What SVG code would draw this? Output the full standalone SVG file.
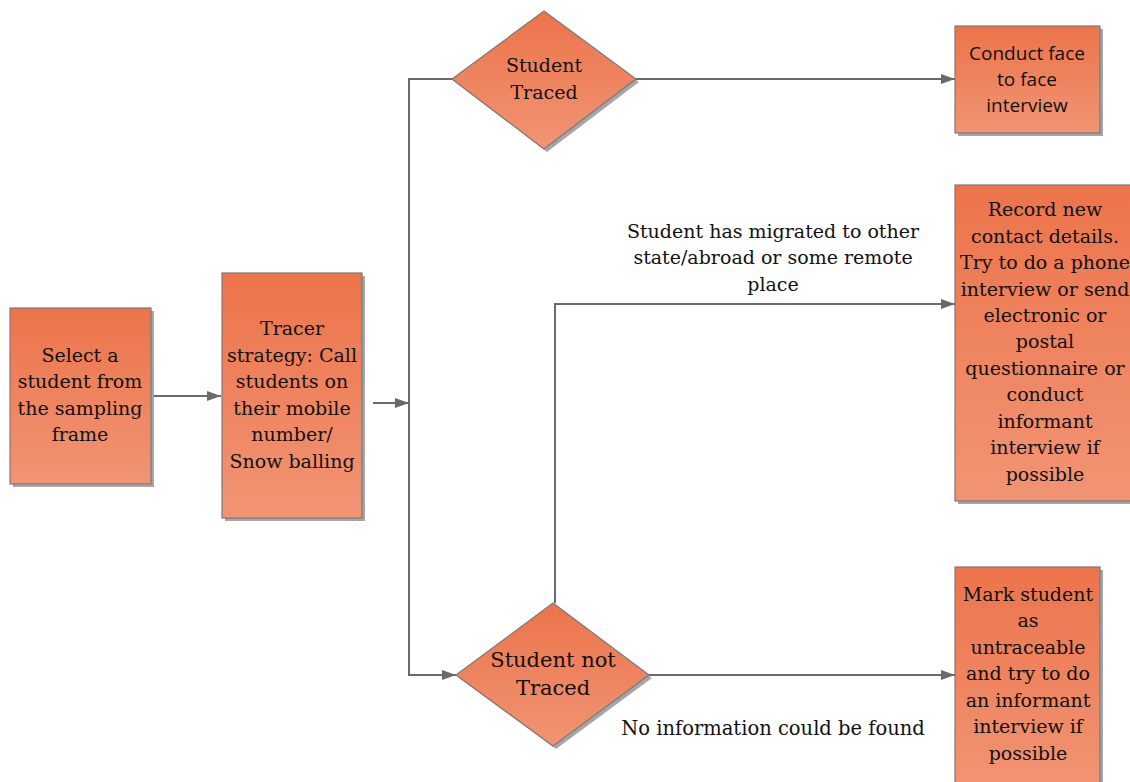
<svg xmlns="http://www.w3.org/2000/svg" width="1130" height="782" viewBox="0 0 1130 782">
<style>
.n{fill:url(#g);stroke:#7a7a7a;stroke-width:1.2}
.sh{fill:#a6a6a6}
.t{font-family:"DejaVu Serif","Liberation Serif",serif;font-size:19px;fill:#111;text-anchor:middle}
.s{font-family:"Open Sans","Liberation Sans",sans-serif;font-size:19px;fill:#111;text-anchor:middle}
.c{fill:none;stroke:#6a6a6a;stroke-width:2}
</style>
<defs>
<linearGradient id="g" x1="0" y1="0" x2="0" y2="1">
<stop offset="0" stop-color="#EC744A"/>
<stop offset="1" stop-color="#F19474"/>
</linearGradient>
<marker id="a" viewBox="0 0 14 10" refX="14" refY="5" markerWidth="14" markerHeight="10" markerUnits="userSpaceOnUse" orient="auto">
<path d="M0,0 L14,5 L0,10 z" fill="#6a6a6a"/>
</marker>
</defs>
<g id="connectors">
<path class="c" d="M151,396 H221" marker-end="url(#a)"/>
<path class="c" d="M373,403 H409" marker-end="url(#a)"/>
<path class="c" d="M452,79 H409 V675 H456" marker-end="url(#a)"/>
<path class="c" d="M636,79 H955" marker-end="url(#a)"/>
<path class="c" d="M555,603 V304 H955" marker-end="url(#a)"/>
<path class="c" d="M649,675 H955" marker-end="url(#a)"/>
</g>
<g id="labels">
<text class="t" x="773" y="238">Student has migrated to other</text>
<text class="t" x="773" y="264">state/abroad or some remote</text>
<text class="t" x="773" y="291">place</text>
<text class="t" x="773" y="735" style="font-size:19.5px">No information could be found</text>
</g>
<g id="n1">
<rect class="sh" x="13" y="311" width="141" height="176"/>
<rect class="n" x="10" y="308" width="141" height="176"/>
<text class="t" x="80" y="362">Select a</text>
<text class="t" x="80" y="388">student from</text>
<text class="t" x="80" y="415">the sampling</text>
<text class="t" x="80" y="441">frame</text>
</g>
<g id="n2">
<rect class="sh" x="225" y="276" width="140" height="245"/>
<rect class="n" x="222" y="273" width="140" height="245"/>
<text class="t" x="292" y="335">Tracer</text>
<text class="t" x="292" y="362">strategy: Call</text>
<text class="t" x="292" y="388">students on</text>
<text class="t" x="292" y="415">their mobile</text>
<text class="t" x="292" y="441">number/</text>
<text class="t" x="292" y="468">Snow balling</text>
</g>
<g id="d1">
<path class="sh" d="M547,14 L639,82 L547,152 L455,82 z"/>
<path class="n" d="M544,11 L636,79 L544,149 L452,79 z"/>
<text class="t" x="544" y="72">Student</text>
<text class="t" x="544" y="99">Traced</text>
</g>
<g id="d2">
<path class="sh" d="M556,606 L652,678 L556,749 L459,678 z"/>
<path class="n" d="M553,603 L649,675 L553,746 L456,675 z"/>
<text class="t" x="553" y="667" style="font-size:21px">Student not</text>
<text class="t" x="553" y="695" style="font-size:21px">Traced</text>
</g>
<g id="n3">
<rect class="sh" x="958" y="29" width="145" height="107"/>
<rect class="n" x="955" y="26" width="145" height="107"/>
<text class="s" x="1027" y="60">Conduct face</text>
<text class="s" x="1027" y="86">to face</text>
<text class="s" x="1027" y="112">interview</text>
</g>
<g id="n4">
<rect class="sh" x="958" y="188" width="180" height="316"/>
<rect class="n" x="955" y="185" width="180" height="316"/>
<text class="t" x="1045" y="216">Record new</text>
<text class="t" x="1045" y="243">contact details.</text>
<text class="t" x="1045" y="269">Try to do a phone</text>
<text class="t" x="1045" y="296">interview or send</text>
<text class="t" x="1045" y="322">electronic or</text>
<text class="t" x="1045" y="348">postal</text>
<text class="t" x="1045" y="375">questionnaire or</text>
<text class="t" x="1045" y="401">conduct</text>
<text class="t" x="1045" y="428">informant</text>
<text class="t" x="1045" y="454">interview if</text>
<text class="t" x="1045" y="481">possible</text>
</g>
<g id="n5">
<rect class="sh" x="958" y="570" width="145" height="220"/>
<rect class="n" x="955" y="567" width="145" height="220"/>
<text class="t" x="1028" y="601">Mark student</text>
<text class="t" x="1028" y="627">as</text>
<text class="t" x="1028" y="654">untraceable</text>
<text class="t" x="1028" y="680">and try to do</text>
<text class="t" x="1028" y="707">an informant</text>
<text class="t" x="1028" y="733">interview if</text>
<text class="t" x="1028" y="760">possible</text>
</g>
</svg>
